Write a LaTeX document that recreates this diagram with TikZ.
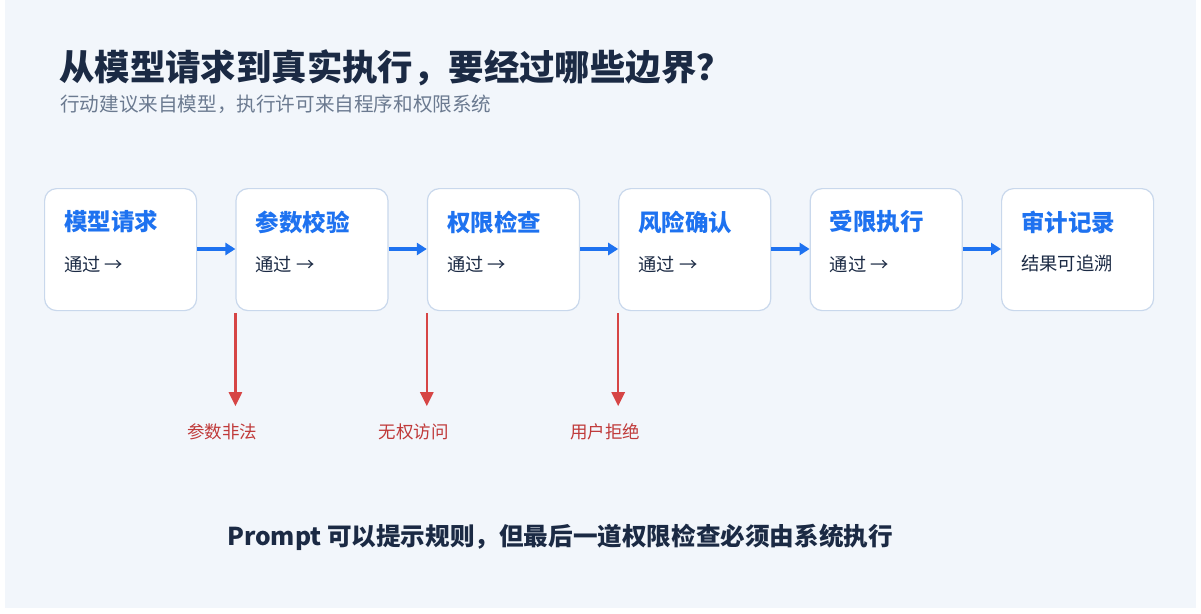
\documentclass[tikz,border=0pt]{standalone}
\usepackage{fontspec}
\setmainfont{Noto Sans CJK SC}
\usetikzlibrary{arrows.meta}
\definecolor{bgpanel}{HTML}{F2F6FB}
\definecolor{boxline}{HTML}{C9D8EC}
\definecolor{stepblue}{HTML}{1E72F0}
\definecolor{darktext}{HTML}{1B2A44}
\definecolor{greytext}{HTML}{6B7A90}
\definecolor{rejectred}{HTML}{D64545}
\definecolor{rejecttext}{HTML}{C03A3A}
\tikzstyle{stepbox}=[draw=boxline, line width=1.2pt, fill=white, rounded corners=12pt, minimum width=152pt, minimum height=122pt, inner sep=0pt]
\tikzstyle{steptitle}=[anchor=west, inner sep=0pt, text=stepblue, font=\fontsize{23.5}{27}\selectfont\bfseries]
\tikzstyle{stepnote}=[anchor=west, inner sep=0pt, text=darktext, font=\fontsize{18.3}{21}\selectfont]
\tikzstyle{pass}=[draw=stepblue, line width=3.5pt, -{Triangle[length=10pt,width=12pt]}]
\tikzstyle{reject}=[draw=rejectred, line width=2.5pt, -{Triangle[length=14pt,width=13pt]}]
\tikzstyle{rejectlabel}=[inner sep=0pt, text=rejecttext, font=\fontsize{17.5}{20}\selectfont]

\begin{document}
\begin{tikzpicture}[x=1pt, y=-1pt]
        \useasboundingbox (0,0) rectangle (1201,613);
        \fill[bgpanel] (5,0) rectangle (1196,608);
        \node[anchor=west, inner sep=0pt, text=darktext, font=\fontsize{35.4}{40}\selectfont\bfseries] (title) at (59,68) {从模型请求到真实执行，要经过哪些边界？};
        \node[anchor=west, inner sep=0pt, text=greytext, font=\fontsize{19.6}{23}\selectfont] (subtitle) at (60,104) {行动建议来自模型，执行许可来自程序和权限系统};
        % steps
        \foreach \i/\t/\n in {1/模型请求/通过 →, 2/参数校验/通过 →, 3/权限检查/通过 →, 4/风险确认/通过 →, 5/受限执行/通过 →, 6/审计记录/结果可追溯} {
            \node[stepbox, anchor=north west] (S\i) at ({44+191.4*(\i-1)},188) {};
            \node[steptitle] (S\i title) at ([xshift=20pt, yshift=-34pt]S\i.north west) {\t};
            \node[stepnote] (S\i note) at ([xshift=20pt, yshift=-76pt]S\i.north west) {\n};
        }
        \foreach \i/\j in {1/2, 2/3, 3/4, 4/5, 5/6}
            \draw[pass] ([yshift=-61pt]S\i.north east) -- ([yshift=-61pt]S\j.north west);
        % rejections
        \foreach \i/\t in {2/参数非法, 3/无权访问, 4/用户拒绝} {
            \coordinate (R\i) at ([yshift=-95pt]S\i.south west);
            \node[rejectlabel] (R\i label) at ([xshift=-13pt, yshift=-121pt]S\i.south west) {\t};
            \draw[reject] ([yshift=-2pt]S\i.south west) -- (R\i);
        }
        \node[inner sep=0pt, text=darktext, font=\fontsize{24.6}{29}\selectfont\bfseries] (footer) at (560,537) {Prompt 可以提示规则，但最后一道权限检查必须由系统执行};
    \end{tikzpicture}
\end{document}
